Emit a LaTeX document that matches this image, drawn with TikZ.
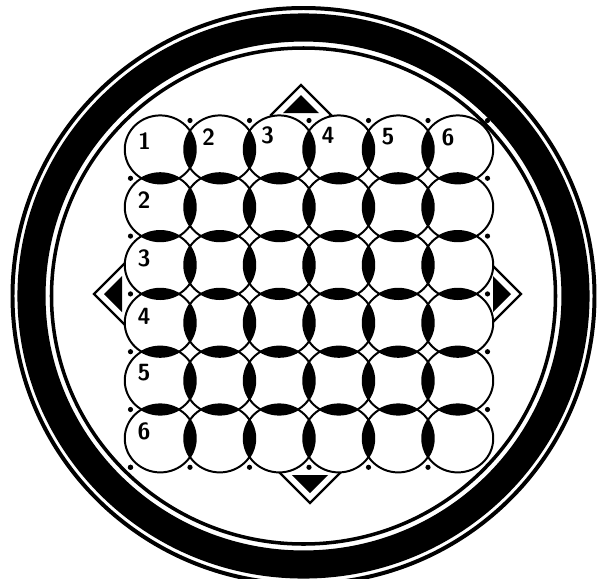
\documentclass[tikz,border=0pt]{standalone}
\usepackage{tikz}

\begin{document}
\begin{tikzpicture}[x=0.03cm, y=-0.03cm,
  cellfill/.style={fill=white},
  celledge/.style={draw=black, line width=1.7pt},
  boardnum/.style={font=\sffamily\bfseries\fontsize{20}{20}\selectfont, inner sep=0pt}]
\useasboundingbox (0,0) rectangle (605,579);
% rim of the board
\draw[line width=3.4pt] (303.5,296) ellipse [x radius=291, y radius=288];
\draw[line width=24pt] (303.5,296) ellipse [x radius=272, y radius=268.5];
\draw[line width=3pt] (303.5,296) ellipse [x radius=252, y radius=248];
% the four markers
\foreach \cx/\cy/\ang in {301/115/0, 310/473/180, 124/294/90, 491/294/-90} {
  \begin{scope}[shift={(\cx,\cy)}, rotate=\ang]
    \draw[line width=2.1pt, fill=white] (0,-30) -- (30,0) -- (0,30) -- (-30,0) -- cycle;
    \fill (0,-20) -- (18,-2) -- (-18,-2) -- cycle;
  \end{scope}
}
% cells
\foreach \i in {0,...,5}
  \foreach \j in {0,...,5}
    \fill[cellfill] ({160.25+59.5*\i},{149.4+57.8*\j}) ellipse [x radius=35.5, y radius=34];
\foreach \i in {0,...,4}
  \foreach \j in {0,...,5} {
    \begin{scope}
      \clip ({160.25+59.5*\i},{149.4+57.8*\j}) ellipse [x radius=35.5, y radius=34];
      \fill ({160.25+59.5*(\i+1)},{149.4+57.8*\j}) ellipse [x radius=35.5, y radius=34];
    \end{scope}
    \begin{scope}
      \clip ({160.25+59.5*\j},{149.4+57.8*\i}) ellipse [x radius=35.5, y radius=34];
      \fill ({160.25+59.5*\j},{149.4+57.8*(\i+1)}) ellipse [x radius=35.5, y radius=34];
    \end{scope}
  }
\foreach \i in {0,...,5}
  \foreach \j in {0,...,5}
    \draw[celledge] ({160.25+59.5*\i},{149.4+57.8*\j}) ellipse [x radius=35.5, y radius=34];
% dots round the edge
\foreach \k in {1,...,6} {
  \fill ({130.5+59.5*\k},120.5) circle (2.6);
  \fill (130.5,{120.5+57.8*\k}) circle (2.6);
  \fill ({130.5+59.5*(\k-1)},467.3) circle (2.6);
}
\foreach \k in {1,...,5}
  \fill (487.5,{120.5+57.8*\k}) circle (2.6);
% numbers
\foreach \n/\lx/\ly in {1/144.5/141, 2/208.5/137.5, 3/267.5/135, 4/328/135, 5/388/137, 6/448/137}
  \node[boardnum] (top\n) at (\lx,\ly) {\n};
\foreach \n/\ly in {2/200, 3/258, 4/316, 5/373, 6/431}
  \node[boardnum] (side\n) at (144,\ly) {\n};
\end{tikzpicture}
\end{document}
